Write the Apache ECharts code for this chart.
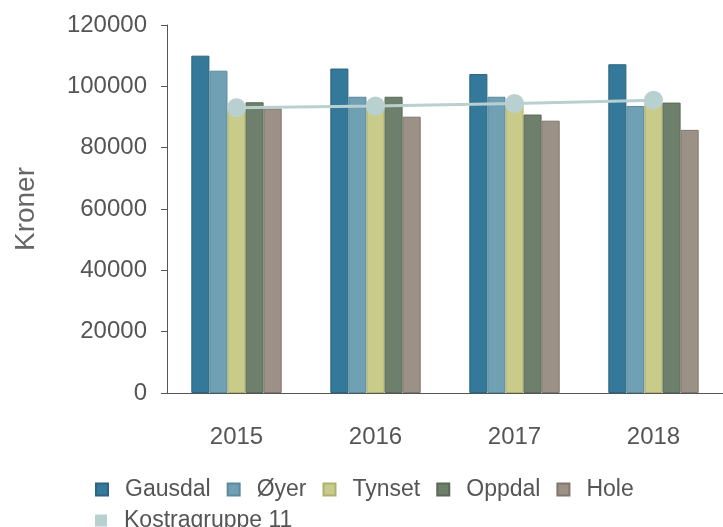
<!DOCTYPE html>
<html>
<head>
<meta charset="utf-8">
<script src="https://cdn.jsdelivr.net/npm/echarts@6/dist/echarts.min.js"></script>
<style>
  html, body { margin: 0; padding: 0; background: #fff; }
  #chart { width: 723px; height: 527px; }
</style>
</head>
<body>
<div id="chart"></div>
<script>
  const years = ['2015', '2016', '2017', '2018']
  const gausdal = [110000, 105800, 104000, 107200]
  const oyer = [105100, 96600, 96600, 93600]
  const tynset = [92800, 93200, 94000, 95000]
  const oppdal = [94800, 96600, 90800, 94700]
  const hole = [92800, 90100, 88800, 85800]
  const kostra = [93000, 93600, 94400, 95500]

  const barColors = [
    ['#35799a', '#2a6480'],
    ['#6fa0b4', '#5b8a9d'],
    ['#c8cb8a', '#aeb170'],
    ['#6e806b', '#5a6a57'],
    ['#9b9186', '#807669'],
  ]
  const font = 'Arial, "Liberation Sans", sans-serif'

  const makeBar = (name, data, i) => ({
    name,
    type: 'bar',
    data,
    barGap: 0,
    barCategoryGap: '35%',
    itemStyle: {
      color: barColors[i][0],
      borderColor: barColors[i][1],
      borderWidth: 1,
    },
  })

  const legendBase = {
    left: 90,
    orient: 'horizontal',
    icon: 'rect',
    itemWidth: 12,
    itemHeight: 12,
    itemGap: 16,
    textStyle: {
      fontSize: 23,
      color: '#555',
      padding: [0, 0, 0, 12],
      fontFamily: font,
    },
  }

  const options = {
    animation: false,
    textStyle: { fontFamily: font },
    grid: {
      left: 167,
      right: 0,
      top: 25,
      bottom: 134,
      outerBoundsMode: 'none',
    },
    legend: [
      Object.assign({}, legendBase, {
        top: 473,
        data: ['Gausdal', 'Øyer', 'Tynset', 'Oppdal', 'Hole'],
      }),
      Object.assign({}, legendBase, {
        top: 504,
        data: [{ name: 'Kostragruppe 11', itemStyle: { color: '#b9d0d0' } }],
      }),
    ],
    xAxis: {
      type: 'category',
      data: years,
      axisLine: { lineStyle: { color: '#555' } },
      axisTick: { length: 8, lineStyle: { color: '#555' } },
      axisLabel: { fontSize: 24, color: '#555', margin: 32 },
    },
    yAxis: {
      type: 'value',
      min: 0,
      max: 120000,
      interval: 20000,
      name: 'Kroner',
      nameLocation: 'middle',
      nameGap: 127,
      nameTextStyle: { fontSize: 28, color: '#666' },
      axisLine: { show: true, lineStyle: { color: '#555' } },
      axisTick: { show: true, length: 6, lineStyle: { color: '#555' } },
      axisLabel: {
        fontSize: 24,
        color: '#555',
        margin: 20,
        formatter: (v) => String(v),
      },
      splitLine: { show: false },
    },
    series: [
      makeBar('Gausdal', gausdal, 0),
      makeBar('Øyer', oyer, 1),
      makeBar('Tynset', tynset, 2),
      makeBar('Oppdal', oppdal, 3),
      makeBar('Hole', hole, 4),
      {
        name: 'Kostragruppe 11',
        type: 'line',
        data: kostra,
        symbol: 'circle',
        symbolSize: 19,
        z: 5,
        lineStyle: { color: '#b9d0d0', width: 3 },
        itemStyle: { color: '#b9d0d0' },
      },
    ],
  }

  const chart = echarts.init(document.getElementById('chart'))
  chart.setOption(options)
  window.addEventListener('resize', function () {
    chart && chart.resize()
  })
</script>
</body>
</html>
